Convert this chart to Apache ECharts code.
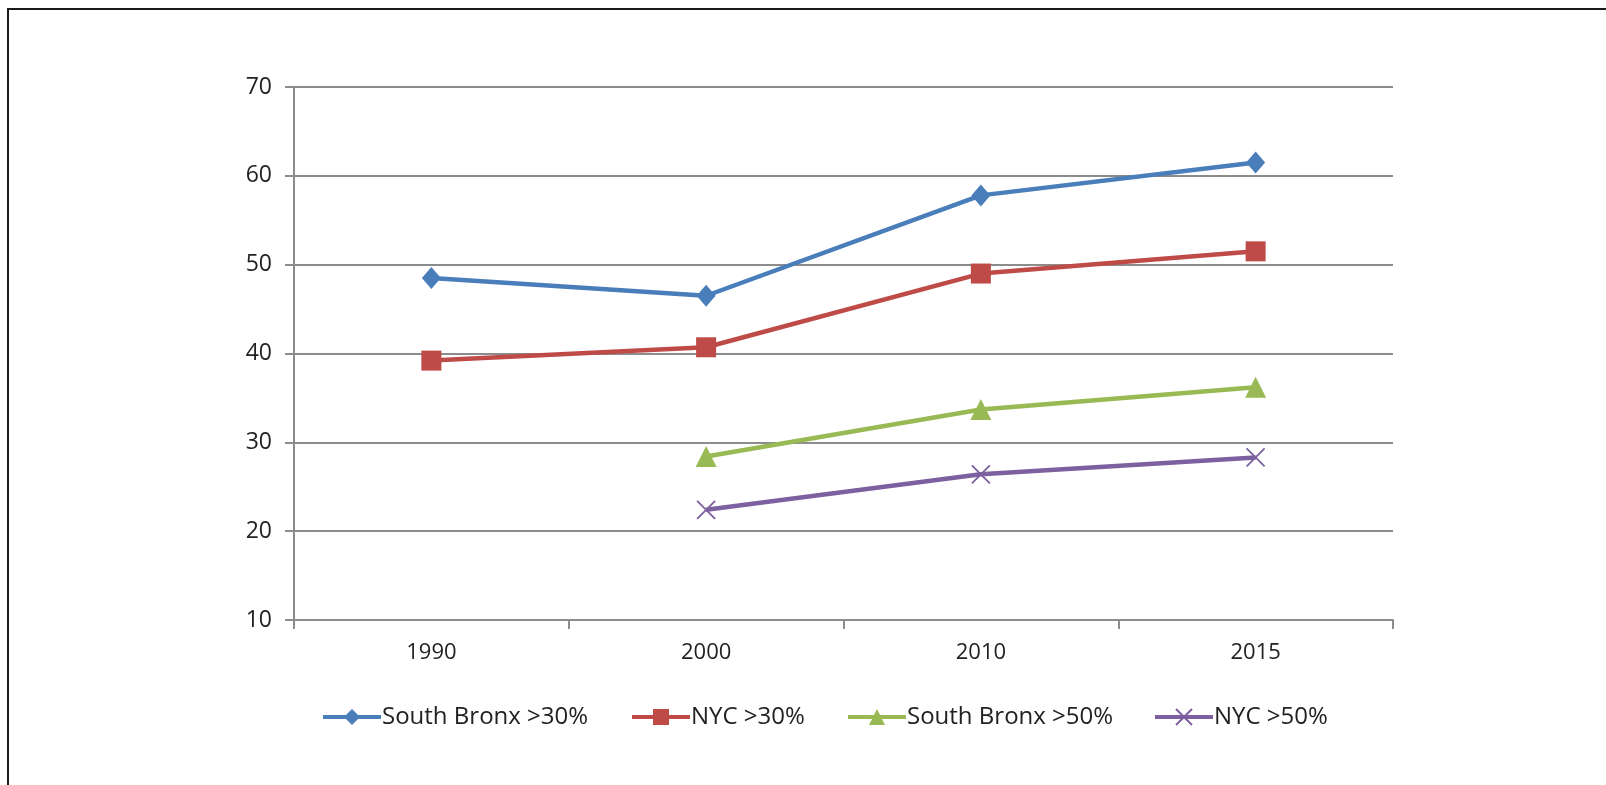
<!DOCTYPE html>
<html>
<head>
<meta charset="utf-8">
<script src="https://cdn.jsdelivr.net/npm/echarts@6/dist/echarts.min.js"></script>
<style>
  html, body { margin: 0; padding: 0; background: #fff; }
  #chart { width: 1606px; height: 785px; }
</style>
</head>
<body>
<div id="chart"></div>
<script>
// Share of households paying more than 30% / 50% of income on rent
const years = ['1990', '2000', '2010', '2015'];
const southBronx30 = [48.5, 46.5, 57.8, 61.5];
const nyc30 = [39.2, 40.7, 49.0, 51.5];
const southBronx50 = [null, 28.4, 33.7, 36.2];
const nyc50 = [null, 22.4, 26.4, 28.3];
const seriesNames = ['South Bronx >30%', 'NYC >30%', 'South Bronx >50%', 'NYC >50%'];
const yTicks = { min: 10, max: 70, step: 10 };

const FONT = 'Open Sans';
const TEXT = '#222222';
const GRID = '#8c8c8c';
const COLORS = ['#4a7ebb', '#be4b48', '#98b954', '#7d60a0'];

const crossPath = 'path://M0,0L10,10M10,0L0,10';

function lineSeries(name, data, color, symbol, size, extra) {
  return Object.assign({
    name: name,
    type: 'line',
    data: data,
    symbol: symbol,
    symbolSize: size,
    connectNulls: false,
    lineStyle: { color: color, width: 4.5 },
    itemStyle: { color: color },
    emphasis: { disabled: true }
  }, extra || {});
}

// one legend block per series, laid out left to right under the plot
const legendLefts = [316, 625, 841, 1148];
const legends = seriesNames.map((name, i) => ({
  left: legendLefts[i],
  top: 700,
  itemWidth: 58,
  itemHeight: 20,
  selectedMode: false,
  lineStyle: { width: 4 },
  textStyle: { color: TEXT, fontFamily: FONT, fontSize: 24, padding: [0, 0, 0, -4] },
  data: [name]
}));

const chart = echarts.init(document.getElementById('chart'));
chart.setOption({
  animation: false,
  backgroundColor: '#ffffff',
  graphic: [{
    type: 'rect',
    shape: { x: 8, y: 9, width: 1700, height: 900 },
    style: { fill: 'none', stroke: '#1a1a1a', lineWidth: 2 },
    silent: true
  }],
  grid: { left: 294, right: 213, top: 87, bottom: 165 },
  xAxis: {
    type: 'category',
    data: years,
    boundaryGap: true,
    axisLine: { lineStyle: { color: GRID, width: 2 } },
    axisTick: { show: true, length: 9, lineStyle: { color: GRID, width: 2 } },
    axisLabel: { color: TEXT, fontFamily: FONT, fontSize: 22, margin: 22 },
    splitLine: { show: false }
  },
  yAxis: {
    type: 'value',
    min: yTicks.min,
    max: yTicks.max,
    interval: yTicks.step,
    axisLine: { show: true, lineStyle: { color: GRID, width: 2 } },
    axisTick: { show: true, length: 9, lineStyle: { color: GRID, width: 2 } },
    axisLabel: { color: TEXT, fontFamily: FONT, fontSize: 23, margin: 22 },
    splitLine: { show: true, lineStyle: { color: GRID, width: 2 } }
  },
  legend: legends,
  series: [
    lineSeries(seriesNames[0], southBronx30, COLORS[0], 'diamond', [19, 22]),
    lineSeries(seriesNames[1], nyc30, COLORS[1], 'rect', 20),
    lineSeries(seriesNames[2], southBronx50, COLORS[2], 'triangle', 21),
    lineSeries(seriesNames[3], nyc50, COLORS[3], crossPath, 18, {
      itemStyle: { color: COLORS[3], borderColor: COLORS[3], borderWidth: 1.8 }
    })
  ]
});
</script>
</body>
</html>
